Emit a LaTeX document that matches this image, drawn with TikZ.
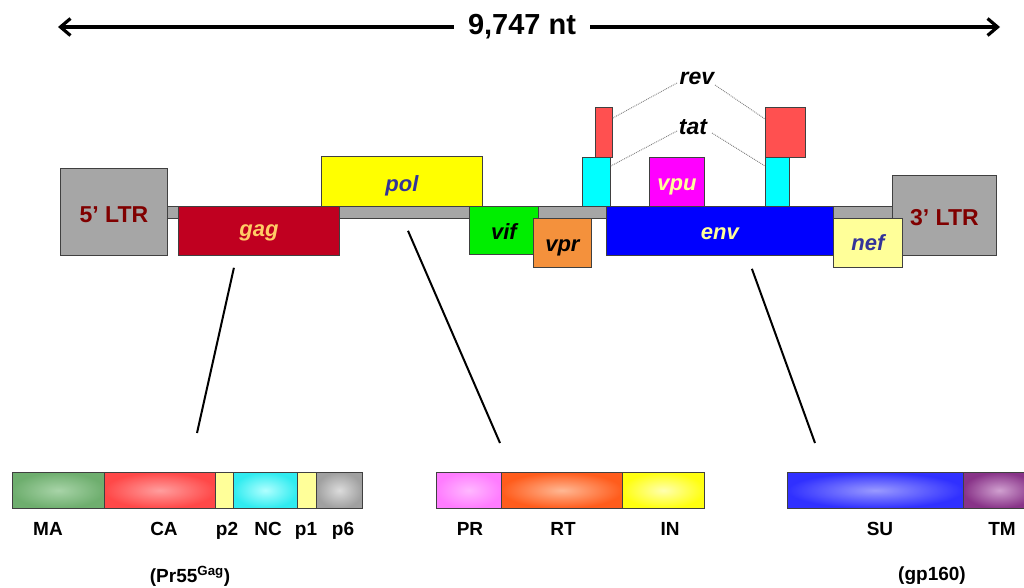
\documentclass[tikz,border=0pt]{standalone}
\usepackage{fontspec}
\setmainfont{Liberation Sans}
\usetikzlibrary{arrows.meta,calc}
\definecolor{ltrgrey}{HTML}{A6A6A6}
\definecolor{ltrtext}{HTML}{800000}
\definecolor{gagred}{HTML}{C00020}
\definecolor{gagtext}{HTML}{FFCC66}
\definecolor{polyellow}{HTML}{FFFF00}
\definecolor{navytext}{HTML}{333399}
\definecolor{vifgreen}{HTML}{00EE00}
\definecolor{vprorange}{HTML}{F4913C}
\definecolor{tatcyan}{HTML}{00FFFF}
\definecolor{revred}{HTML}{FF5050}
\definecolor{vpumag}{HTML}{FF00FF}
\definecolor{envblue}{HTML}{0000FF}
\definecolor{paleyellow}{HTML}{FFFF99}
\definecolor{edge}{HTML}{404040}
\definecolor{maout}{HTML}{6EAE6E}
\definecolor{main}{HTML}{A8D4A8}
\definecolor{caout}{HTML}{FF4848}
\definecolor{cain}{HTML}{FF9E9E}
\definecolor{ncout}{HTML}{30ECF0}
\definecolor{ncin}{HTML}{B0FFFF}
\definecolor{p6out}{HTML}{A0A0A0}
\definecolor{p6in}{HTML}{DCDCDC}
\definecolor{prout}{HTML}{FF7CFF}
\definecolor{prin}{HTML}{FFB8FF}
\definecolor{rtout}{HTML}{FF5C1C}
\definecolor{rtin}{HTML}{FFB894}
\definecolor{inout}{HTML}{FFFF10}
\definecolor{inin}{HTML}{FFFFB0}
\definecolor{suout}{HTML}{3030FF}
\definecolor{suin}{HTML}{9A9AFF}
\definecolor{tmout}{HTML}{883388}
\definecolor{tmin}{HTML}{D0A0D0}
\begin{document}
\begin{tikzpicture}[x=1pt,y=-1pt,
  gene/.style={draw=edge, line width=0.8pt, inner sep=0pt, anchor=north west,
    text height=18pt, text depth=0pt,
    font=\fontsize{22}{24}\selectfont\bfseries\itshape},
  ltr/.style={gene, fill=ltrgrey, text=ltrtext, text height=21pt,
    font=\fontsize{23}{25}\selectfont\bfseries},
  seg/.style={draw=edge, line width=0.6pt, inner sep=0pt, anchor=north west, minimum height=36pt},
  lab/.style={font=\fontsize{19}{21}\selectfont\bfseries, anchor=base, inner sep=0pt},
  sptext/.style={font=\fontsize{23}{25}\selectfont\bfseries\itshape, inner sep=1pt},
  dotline/.style={gray, densely dotted, line width=0.9pt},
  link/.style={black, line width=2pt},
  span/.style={black, line width=3.2pt}
]
\clip (0,0) rectangle (1024,587);
\fill[white] (0,0) rectangle (1024,587);

% length arrow
\node[font=\fontsize{29}{31}\selectfont\bfseries, inner xsep=0pt] (len) at (522,27) {9,747 nt};
\coordinate (lenL) at (58,27);
\coordinate (lenR) at (1000,27);
\draw[span, -{Straight Barb[length=10pt,width=17pt]}] ($(len.west)+(-14,0)$) -- (lenL);
\draw[span, -{Straight Barb[length=10pt,width=17pt]}] ($(len.east)+(14,0)$) -- (lenR);

% genome backbone
\node[gene, fill=ltrgrey, minimum width=726pt, minimum height=12pt, text height=0pt] (backbone) at (167,206) {};
\node[ltr, minimum width=107pt, minimum height=87pt] (ltr5) at (60,168) {5’ LTR};
\node[ltr, minimum width=104pt, minimum height=80pt] (ltr3) at (892,175) {3’ LTR};
\node[gene, fill=polyellow, text=navytext, minimum width=161pt, minimum height=50pt, text height=20pt] (pol) at (321,156) {pol};
\node[gene, fill=gagred, text=gagtext, minimum width=161pt, minimum height=49pt, text height=12pt] (gag) at (178,206) {gag};
\node[gene, fill=vifgreen, text=black, minimum width=69pt, minimum height=48pt] (vif) at (469,206) {vif};
\node[gene, fill=vprorange, text=black, minimum width=58pt, minimum height=49pt, text height=17pt] (vpr) at (533,218) {vpr};
\node[gene, fill=tatcyan, minimum width=28pt, minimum height=49pt, text height=0pt] (tatL) at (582,157) {};
\node[gene, fill=revred, minimum width=17pt, minimum height=50pt, text height=0pt] (revL) at (595,107) {};
\node[gene, fill=vpumag, text=paleyellow, minimum width=55pt, minimum height=49pt] (vpu) at (649,157) {vpu};
\node[gene, fill=tatcyan, minimum width=24pt, minimum height=49pt, text height=0pt] (tatR) at (765,157) {};
\node[gene, fill=revred, minimum width=40pt, minimum height=50pt, text height=0pt] (revR) at (765,107) {};
\node[gene, fill=envblue, text=paleyellow, minimum width=227pt, minimum height=49pt] (env) at (606,206) {env};
\node[gene, fill=paleyellow, text=navytext, minimum width=69pt, minimum height=49pt, text height=15pt] (nef) at (833,218) {nef};

% rev / tat labels
\node[sptext] (rev) at (697,78) {rev};
\node[sptext] (tat) at (693,127) {tat};
\draw[dotline] ($(rev.center)+(-20,5)$) -- ($(revL.north east)+(0,11)$);
\draw[dotline] ($(rev.center)+(18,7)$) -- ($(revR.north west)+(0,12)$);
\draw[dotline] ($(tat.center)+(-16,4)$) -- ($(tatL.north east)+(0,9)$);
\draw[dotline] ($(tat.center)+(19,6)$) -- ($(tatR.north west)+(0,9)$);

% Gag polyprotein
\node[seg, inner color=main, outer color=maout, minimum width=92pt] (MA) at (12,472) {};
\node[seg, inner color=cain, outer color=caout, minimum width=111pt] (CA) at (104,472) {};
\node[seg, fill=paleyellow, minimum width=18pt] (p2) at (215,472) {};
\node[seg, inner color=ncin, outer color=ncout, minimum width=64pt] (NC) at (233,472) {};
\node[seg, fill=paleyellow, minimum width=19pt] (p1) at (297,472) {};
\node[seg, inner color=p6in, outer color=p6out, minimum width=46pt] (p6) at (316,472) {};
\node[lab] at (48,535) {MA};
\node[lab] at (164,535) {CA};
\node[lab] at (227,535) {p2};
\node[lab] at (268,535) {NC};
\node[lab] at (306,535) {p1};
\node[lab] at (343,535) {p6};
\node[lab] at (190,582) {(Pr55\textsuperscript{Gag})};

% Pol
\node[seg, inner color=prin, outer color=prout, minimum width=65pt] (PR) at (436,472) {};
\node[seg, inner color=rtin, outer color=rtout, minimum width=121pt] (RT) at (501,472) {};
\node[seg, inner color=inin, outer color=inout, minimum width=82pt] (IN) at (622,472) {};
\node[lab] at (470,535) {PR};
\node[lab] at (563,535) {RT};
\node[lab] at (670,535) {IN};

% Env
\node[seg, inner color=suin, outer color=suout, minimum width=176pt] (SU) at (787,472) {};
\node[seg, inner color=tmin, outer color=tmout, minimum width=72pt] (TM) at (963,472) {};
\node[lab] at (880,535) {SU};
\node[lab] at (1002,535) {TM};
\node[lab] at (932,580) {(gp160)};

% connectors to the protein maps
\coordinate (gagEnd) at (197,433);
\coordinate (polEnd) at (500,443);
\coordinate (envEnd) at (815,443);
\draw[link] ($(gag.south)+(-25,12)$) -- (gagEnd);
\draw[link] ($(backbone.south west)+(241,12)$) -- (polEnd);
\draw[link] ($(env.south)+(32,13)$) -- (envEnd);
\end{tikzpicture}
\end{document}
